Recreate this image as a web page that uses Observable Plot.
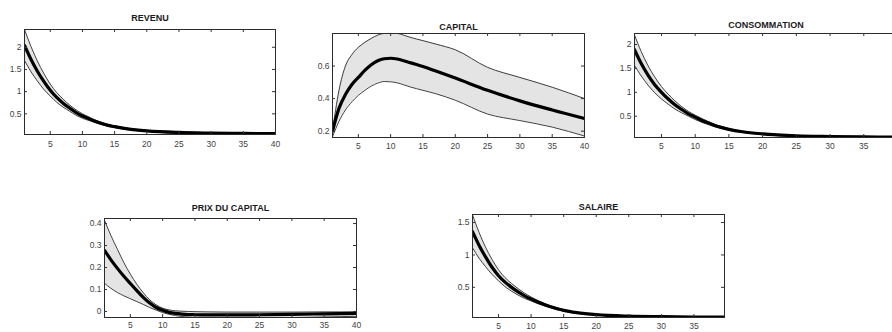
<!DOCTYPE html>
<html><head><meta charset="utf-8">
<script src="https://cdn.jsdelivr.net/npm/d3@7"></script>
<script src="https://cdn.jsdelivr.net/npm/@observablehq/plot@0.6"></script>
<style>
html,body{margin:0;padding:0;background:#fff;}
#chart{position:relative;width:892px;height:332px;overflow:hidden;background:#fff;}
#chart > div{position:absolute;}
</style></head><body><div id="chart"></div>
<script>
// Horizon (periods) at which values were read
const periods = [1,2,3,4,5,6,7,8,9,10,11,12,13,14,15,17,20,25,30,35,40];

// REVENU
const revenuMean  = [2.04,1.73,1.46,1.23,1.03,0.87,0.74,0.63,0.53,0.45,0.39,0.33,0.28,0.24,0.21,0.16,0.115,0.08,0.066,0.058,0.053];
const revenuUpper = [2.40,2.02,1.69,1.41,1.17,0.98,0.83,0.70,0.59,0.50,0.43,0.36,0.31,0.26,0.23,0.175,0.125,0.087,0.072,0.063,0.058];
const revenuLower = [1.70,1.45,1.24,1.05,0.90,0.76,0.65,0.56,0.47,0.40,0.35,0.30,0.255,0.22,0.19,0.145,0.105,0.073,0.06,0.053,0.048];

// CAPITAL
const capitalMean  = [0.20,0.34,0.425,0.487,0.53,0.573,0.608,0.633,0.645,0.648,0.643,0.633,0.621,0.609,0.597,0.569,0.526,0.451,0.386,0.33,0.278];
const capitalUpper = [0.20,0.45,0.60,0.67,0.715,0.745,0.77,0.79,0.80,0.80,0.80,0.79,0.777,0.766,0.756,0.735,0.70,0.592,0.53,0.47,0.40];
const capitalLower = [0.165,0.26,0.33,0.38,0.42,0.45,0.477,0.495,0.505,0.503,0.497,0.485,0.472,0.461,0.451,0.43,0.39,0.305,0.265,0.225,0.17];

// CONSOMMATION
const consoMean  = [1.89,1.60,1.36,1.16,1.00,0.86,0.74,0.64,0.55,0.48,0.41,0.355,0.30,0.26,0.225,0.175,0.13,0.09,0.075,0.066,0.06];
const consoUpper = [2.20,1.85,1.56,1.32,1.12,0.96,0.82,0.70,0.60,0.52,0.45,0.385,0.325,0.28,0.24,0.185,0.137,0.095,0.08,0.07,0.064];
const consoLower = [1.56,1.34,1.15,0.99,0.86,0.75,0.65,0.57,0.50,0.43,0.37,0.32,0.275,0.24,0.21,0.162,0.122,0.085,0.07,0.062,0.056];

// PRIX DU CAPITAL
const prixMean  = [0.278,0.235,0.196,0.16,0.127,0.095,0.064,0.038,0.018,0.005,-0.004,-0.009,-0.012,-0.014,-0.015,-0.016,-0.016,-0.015,-0.013,-0.011,-0.009];
const prixUpper = [0.415,0.345,0.283,0.222,0.17,0.124,0.085,0.053,0.03,0.015,0.007,0.003,0.001,0.0,-0.001,-0.002,-0.003,-0.003,-0.003,-0.002,-0.002];
const prixLower = [0.128,0.105,0.086,0.071,0.058,0.045,0.032,0.018,0.006,-0.005,-0.013,-0.019,-0.023,-0.026,-0.028,-0.03,-0.031,-0.03,-0.028,-0.025,-0.022];

// SALAIRE
const salaireMean  = [1.36,1.15,0.97,0.81,0.68,0.58,0.50,0.43,0.37,0.32,0.275,0.235,0.20,0.17,0.145,0.11,0.078,0.055,0.047,0.043,0.04];
const salaireUpper = [1.62,1.35,1.12,0.93,0.77,0.65,0.56,0.48,0.41,0.35,0.30,0.255,0.215,0.185,0.155,0.117,0.083,0.058,0.05,0.045,0.042];
const salaireLower = [1.11,0.95,0.82,0.70,0.60,0.51,0.44,0.38,0.33,0.29,0.25,0.215,0.185,0.155,0.135,0.10,0.072,0.051,0.044,0.04,0.037];

// Titles and tick labels
const titles = ["REVENU","CAPITAL","CONSOMMATION","PRIX DU CAPITAL","SALAIRE"];
const xTicks40 = [5,10,15,20,25,30,35,40];
const xTicks35 = [5,10,15,20,25,30,35];
const yTicksRevenu = [0.5,1,1.5,2];
const yTicksCapital = [0.2,0.4,0.6];
const yTicksConso = [0.5,1,1.5,2];
const yTicksPrix = [0,0.1,0.2,0.3,0.4];
const yTicksSalaire = [0.5,1,1.5];

const panels = [
  {title:titles[0], mean:revenuMean, upper:revenuUpper, lower:revenuLower, xTicks:xTicks40, xLabels:xTicks40, yTicks:yTicksRevenu,
   xDomain:[1,40], yDomain:[0.034,2.4], fx:24, fy:29, w:251, h:105, titleGap:11, pad:6},
  {title:titles[1], mean:capitalMean, upper:capitalUpper, lower:capitalLower, xTicks:xTicks40, xLabels:xTicks40, yTicks:yTicksCapital,
   xDomain:[1,40], yDomain:[0.161,0.80], fx:332, fy:33, w:252, h:104, titleGap:6.5, pad:5},
  {title:titles[2], mean:consoMean, upper:consoUpper, lower:consoLower, xTicks:xTicks40, xLabels:xTicks35, yTicks:yTicksConso,
   xDomain:[1,40], yDomain:[0.054,2.23], fx:634, fy:33, w:263, h:104, titleGap:8, pad:5},
  {title:titles[3], mean:prixMean, upper:prixUpper, lower:prixLower, xTicks:xTicks40, xLabels:xTicks40, yTicks:yTicksPrix,
   xDomain:[1,40], yDomain:[-0.0275,0.423], fx:104, fy:218, w:252, h:99, titleGap:10.5, pad:4},
  {title:titles[4], mean:salaireMean, upper:salaireUpper, lower:salaireLower, xTicks:xTicks35, xLabels:xTicks35, yTicks:yTicksSalaire,
   xDomain:[1,39.7], yDomain:[0.035,1.624], fx:472, fy:214, w:252, h:103, titleGap:7.5, pad:5}
];

const ML = 32, MR = 8, MT = 22, MB = 24;
const FONT = '"Liberation Sans", Arial, Helvetica, sans-serif';
const chart = document.getElementById("chart");

for (const p of panels) {
  const table = periods.map((t, i) => ({t, mean: p.mean[i], upper: p.upper[i], lower: p.lower[i]}));
  const curve = "monotone-x";
  const svg = Plot.plot({
    width: ML + p.w + MR,
    height: MT + p.h + MB,
    marginLeft: ML, marginRight: MR, marginTop: MT, marginBottom: MB,
    style: {fontFamily: FONT, fontSize: "8.5px", background: "white", maxWidth: "none", overflow: "visible"},
    x: {domain: p.xDomain},
    y: {domain: p.yDomain},
    marks: [
      Plot.areaY(table, {x: "t", y1: "lower", y2: "upper", fill: "#e4e4e4", curve, clip: true}),
      Plot.line(table, {x: "t", y: "upper", stroke: "#2a2a2a", strokeWidth: 0.9, curve, clip: true}),
      Plot.line(table, {x: "t", y: "lower", stroke: "#2a2a2a", strokeWidth: 0.9, curve, clip: true}),
      Plot.line(table, {x: "t", y: "mean", stroke: "#000", strokeWidth: 3.2, curve, clip: true}),
      Plot.frame({stroke: "#2b2b2b", strokeWidth: 1}),
      Plot.tickX(p.xTicks, {x: d => d, insetTop: p.h - 3, stroke: "#333"}),
      Plot.tickX(p.xTicks, {x: d => d, insetBottom: p.h - 3, stroke: "#333"}),
      Plot.tickY(p.yTicks, {y: d => d, insetRight: p.w - 3, stroke: "#333"}),
      Plot.tickY(p.yTicks, {y: d => d, insetLeft: p.w - 3, stroke: "#333"}),
      Plot.axisX(p.xLabels, {tickSize: 0, tickPadding: p.pad, fontSize: 8.5, fill: "#444", label: null, tickFormat: d => `${d}`}),
      Plot.axisY(p.yTicks, {tickSize: 0, tickPadding: 3, fontSize: 8.5, fill: "#444", label: null, tickFormat: d => `${d}`}),
      Plot.text([p.title], {text: d => d, frameAnchor: "top", lineAnchor: "middle", dy: -p.titleGap, fontWeight: "bold", fontSize: 9, fill: "#1a1a1a"})
    ]
  });
  const div = document.createElement("div");
  div.style.left = (p.fx - ML) + "px";
  div.style.top = (p.fy - MT) + "px";
  div.style.width = (ML + p.w + MR) + "px";
  div.appendChild(svg);
  chart.appendChild(div);
}
</script></body></html>
